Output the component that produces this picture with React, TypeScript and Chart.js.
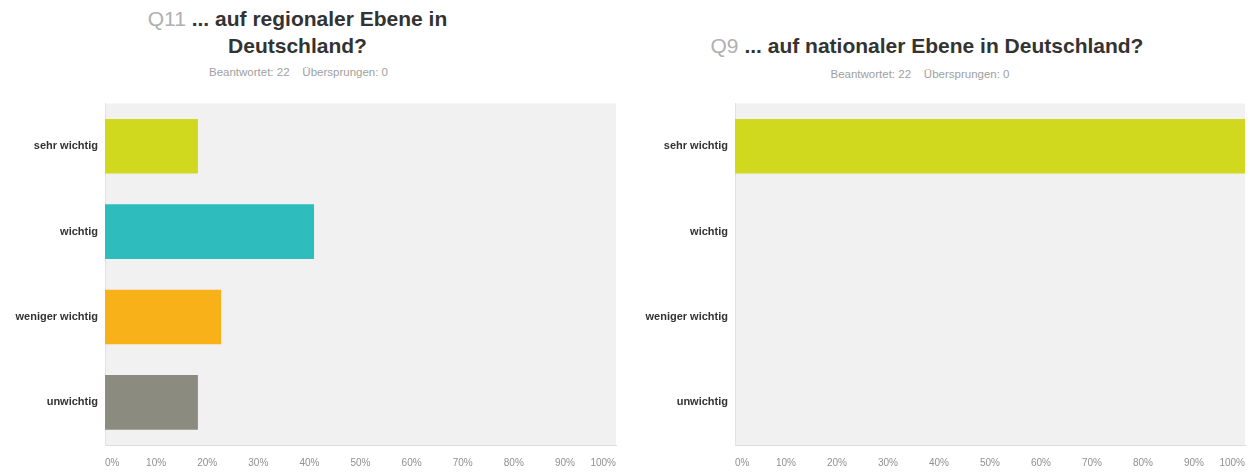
import React, { useEffect, useRef } from "react";
import { Chart, registerables } from "chart.js";

Chart.register(...registerables);

const categories = ["sehr wichtig", "wichtig", "weniger wichtig", "unwichtig"];
const q11Values = [18.18, 40.91, 22.73, 18.18];
const q9Values = [100, 0, 0, 0];
const barColors = ["#d0d91e", "#2ebcbc", "#f9b11a", "#8b8b80"];
const xTickMin = 0;
const xTickMax = 100;
const xTickStep = 10;

const q11TitleNum = "Q11";
const q11TitleText = "... auf regionaler Ebene in";
const q11TitleText2 = "Deutschland?";
const q9TitleNum = "Q9";
const q9TitleText = "... auf nationaler Ebene in Deutschland?";
const answeredText = "Beantwortet: 22";
const skippedText = "Übersprungen: 0";

const plotBg = {
  id: "plotBg",
  beforeDraw(chart: any) {
    const { ctx, chartArea } = chart;
    if (!chartArea) return;
    ctx.save();
    ctx.fillStyle = "#f1f1f1";
    ctx.fillRect(chartArea.left, chartArea.top, chartArea.right - chartArea.left, chartArea.bottom - chartArea.top);
    ctx.restore();
  },
};

function BarChart(props: { values: number[]; width: number; height: number; yWidth: number; padRight: number; padTop: number; xHeight: number }) {
  const ref = useRef<HTMLCanvasElement | null>(null);
  useEffect(() => {
    if (!ref.current) return;
    const chart = new Chart(ref.current, {
      type: "bar",
      data: {
        labels: categories,
        datasets: [
          {
            data: props.values,
            backgroundColor: barColors,
            borderWidth: 0,
            categoryPercentage: 0.8,
            barPercentage: 0.8,
          },
        ],
      },
      plugins: [plotBg],
      options: {
        animation: false,
        responsive: false,
        indexAxis: "y",
        layout: { padding: { top: props.padTop, right: props.padRight, bottom: 0, left: 0 } },
        plugins: { legend: { display: false }, tooltip: { enabled: false }, title: { display: false } },
        scales: {
          x: {
            min: xTickMin,
            max: xTickMax,
            ticks: {
              stepSize: xTickStep,
              callback: (v: any) => v + "%",
              align: "inner",
              color: "#909090",
              font: { family: "'Liberation Sans', Arial, sans-serif", size: 10 },
              padding: 12,
              maxRotation: 0,
              autoSkip: false,
            },
            grid: { display: false, drawTicks: false },
            border: { display: true, color: "#dcdcdc", width: 1 },
            afterFit: (s: any) => {
              s.height = props.xHeight;
              s.paddingRight = 0;
              s.paddingLeft = 0;
            },
          },
          y: {
            ticks: {
              color: "#333333",
              font: { family: "'Liberation Sans', Arial, sans-serif", size: 11, weight: "bold" },
              padding: 7,
            },
            grid: { display: false, drawTicks: false },
            border: { display: true, color: "#e2e2e2", width: 1 },
            afterFit: (s: any) => {
              s.width = props.yWidth;
            },
          },
        },
      } as any,
    });
    return () => chart.destroy();
  }, []);
  return <canvas ref={ref} width={props.width} height={props.height} style={{ width: props.width, height: props.height, display: "block" }} />;
}

const titleStyle: React.CSSProperties = {
  position: "absolute",
  textAlign: "center",
  fontFamily: "'Liberation Sans', Arial, sans-serif",
  fontSize: 21,
  lineHeight: "27px",
  fontWeight: "bold",
  color: "#333",
};
const subStyle: React.CSSProperties = {
  position: "absolute",
  textAlign: "center",
  fontFamily: "'Liberation Sans', Arial, sans-serif",
  fontSize: 11.5,
  color: "#a0a0a0",
  whiteSpace: "pre",
};
const numStyle: React.CSSProperties = { color: "#b0b0b0", fontWeight: "normal" };

export default function App() {
  return (
    <div style={{ position: "absolute", left: 0, top: 0, width: 1250, height: 474, background: "#fff", overflow: "hidden" }}>
      <div style={{ ...titleStyle, left: 0, top: 5, width: 595 }}>
        <span style={numStyle}>{q11TitleNum}</span> {q11TitleText}
        <br />
        {q11TitleText2}
      </div>
      <div style={{ ...subStyle, left: 0, top: 66, width: 597 }}>{answeredText + "    " + skippedText}</div>
      <div style={{ position: "absolute", left: 0, top: 90 }}>
        <BarChart values={q11Values} width={625} height={384} yWidth={105} padRight={9} padTop={10} xHeight={29} />
      </div>

      <div style={{ ...titleStyle, left: 630, top: 32, width: 594 }}>
        <span style={numStyle}>{q9TitleNum}</span> {q9TitleText}
      </div>
      <div style={{ ...subStyle, left: 630, top: 68, width: 580 }}>{answeredText + "    " + skippedText}</div>
      <div style={{ position: "absolute", left: 630, top: 90 }}>
        <BarChart values={q9Values} width={620} height={384} yWidth={105} padRight={5} padTop={12} xHeight={29} />
      </div>
    </div>
  );
}
